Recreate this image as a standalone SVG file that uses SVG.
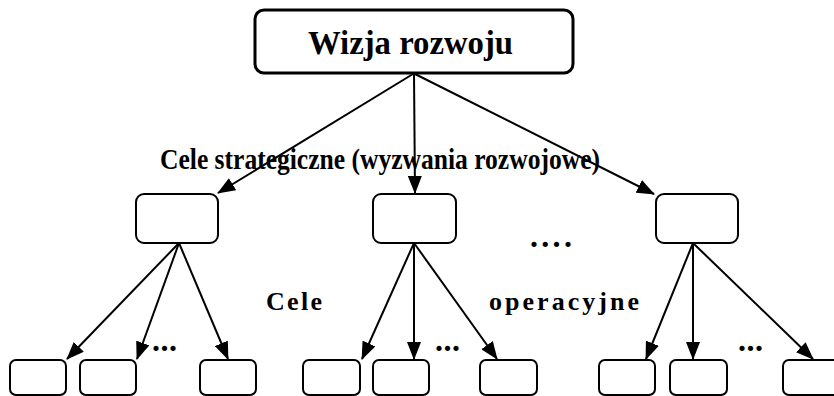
<svg xmlns="http://www.w3.org/2000/svg" width="834" height="396" viewBox="0 0 834 396">
<defs>
<style>
.box{fill:#fff;stroke:#000;stroke-width:2}
.top{fill:#fff;stroke:#000;stroke-width:3}
.ln{stroke:#000;stroke-width:2;fill:none;marker-end:url(#ah)}
.t{font-family:"Liberation Serif","Times New Roman",serif;font-weight:bold;fill:#000}
</style>
<marker id="ah" markerUnits="userSpaceOnUse" markerWidth="18" markerHeight="14" refX="17" refY="7" orient="auto">
<path d="M0,0 L18,7 L0,14 Z" fill="#000"/>
</marker>
</defs>
<rect width="834" height="396" fill="#fff"/>
<g id="connectors">
<line class="ln" x1="413" y1="74" x2="218" y2="193"/>
<line class="ln" x1="414" y1="74" x2="415" y2="193"/>
<line class="ln" x1="415" y1="74" x2="654" y2="194"/>
<line class="ln" x1="179" y1="243" x2="67" y2="359"/>
<line class="ln" x1="179" y1="243" x2="137" y2="359"/>
<line class="ln" x1="179" y1="243" x2="228" y2="359"/>
<line class="ln" x1="414" y1="243" x2="362" y2="359"/>
<line class="ln" x1="414" y1="243" x2="414" y2="359"/>
<line class="ln" x1="414" y1="243" x2="497" y2="359"/>
<line class="ln" x1="693" y1="243" x2="646" y2="359"/>
<line class="ln" x1="693" y1="243" x2="693" y2="359"/>
<line class="ln" x1="693" y1="243" x2="813" y2="359"/>
</g>
<g id="vision">
<rect class="top" x="255" y="10" width="318" height="63" rx="9"/>
<text class="t" x="308" y="54" font-size="33" textLength="205" lengthAdjust="spacingAndGlyphs">Wizja rozwoju</text>
</g>
<text class="t" x="160" y="169" font-size="30" textLength="440" lengthAdjust="spacingAndGlyphs">Cele strategiczne (wyzwania rozwojowe)</text>
<g id="s1"><rect class="box" x="136" y="194" width="82" height="49" rx="8"/></g>
<g id="s2"><rect class="box" x="373" y="194" width="83" height="49" rx="8"/></g>
<g id="s3"><rect class="box" x="656" y="194" width="82" height="49" rx="8"/></g>
<text class="t" x="530" y="247" font-size="32" letter-spacing="3.3">....</text>
<text class="t" x="266" y="310" font-size="26" textLength="56">Cele</text>
<text class="t" x="489" y="310" font-size="26" textLength="150">operacyjne</text>
<g id="o11"><rect class="box" x="10" y="360" width="56" height="35" rx="6"/></g>
<g id="o12"><rect class="box" x="80" y="360" width="56" height="35" rx="6"/></g>
<g id="o13"><rect class="box" x="200" y="360" width="56" height="35" rx="6"/></g>
<g id="o21"><rect class="box" x="303" y="360" width="57" height="35" rx="6"/></g>
<g id="o22"><rect class="box" x="373" y="360" width="56" height="35" rx="6"/></g>
<g id="o23"><rect class="box" x="480" y="360" width="57" height="35" rx="6"/></g>
<g id="o31"><rect class="box" x="599" y="360" width="56" height="35" rx="6"/></g>
<g id="o32"><rect class="box" x="670" y="360" width="57" height="35" rx="6"/></g>
<g id="o33"><rect class="box" x="783" y="360" width="60" height="35" rx="6"/></g>
<text class="t" x="152" y="351" font-size="32" letter-spacing="0.5">...</text>
<text class="t" x="435" y="351" font-size="32" letter-spacing="0.5">...</text>
<text class="t" x="738" y="351" font-size="32" letter-spacing="0.5">...</text>
</svg>
